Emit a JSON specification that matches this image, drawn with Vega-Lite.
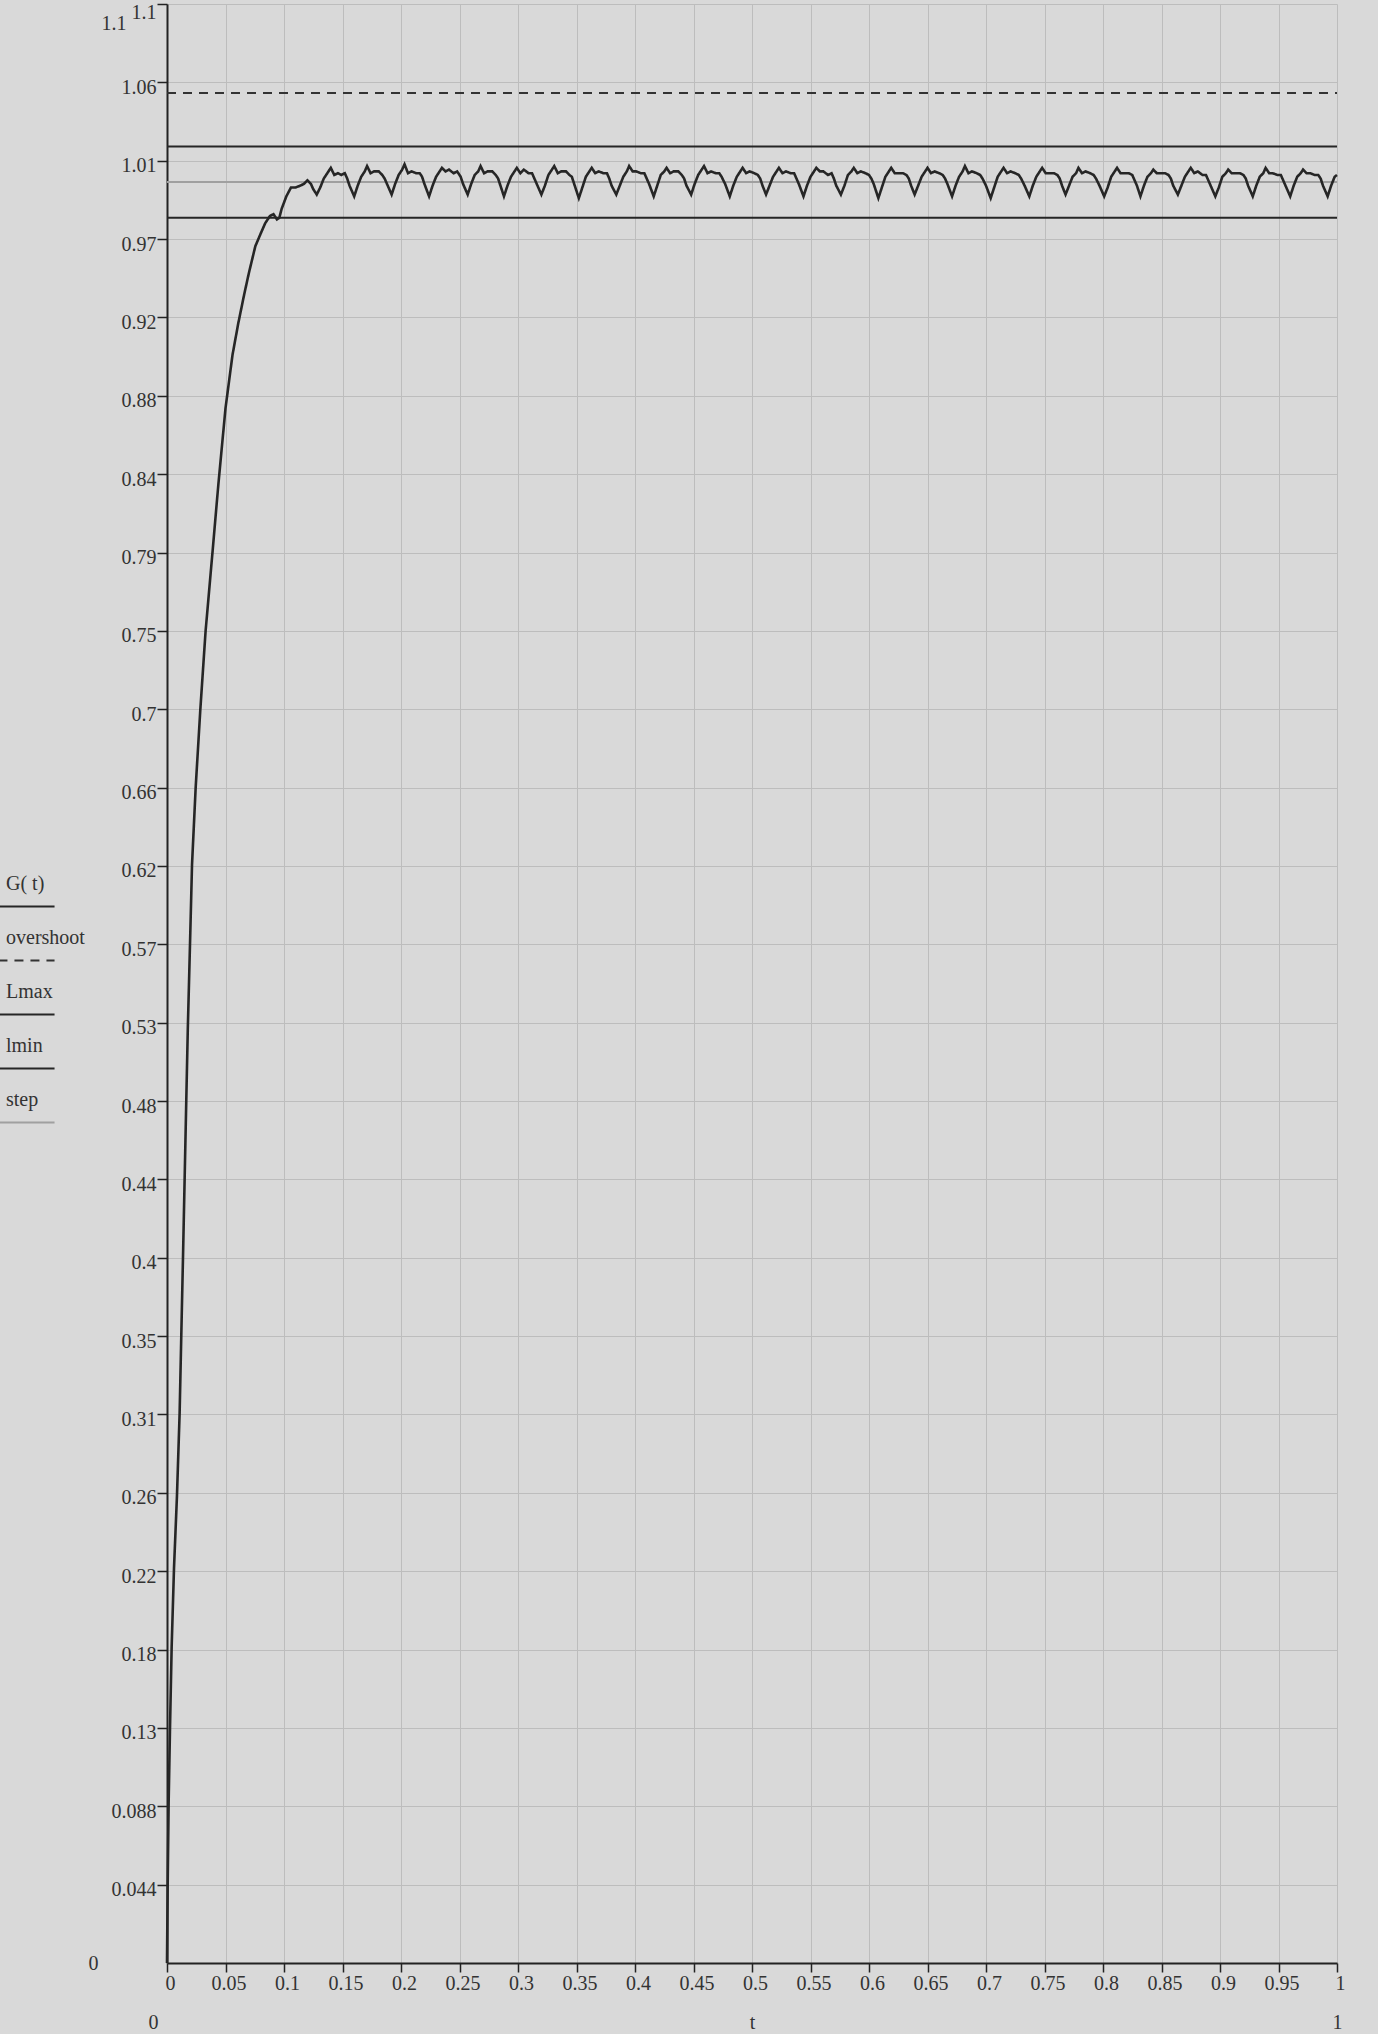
{
"$schema":"https://vega.github.io/schema/vega-lite/v6.json",
"width":1170,"height":1959,
"autosize":{"type":"none"},
"padding":{"left":167,"top":4,"right":41,"bottom":71},
"background":"#d9d9d9",
"config":{
"view":{"stroke":null},
"font":"Liberation Serif",
"axis":{"labelFont":"Liberation Serif","labelFontSize":20,"labelColor":"#333333","titleFont":"Liberation Serif","titleFontSize":20,"titleFontWeight":"normal","titleColor":"#333333","domainColor":"#222222","domainWidth":2,"tickColor":"#222222","tickWidth":1.5,"gridColor":"#bdbdbd","gridWidth":1,"gridOpacity":1},
"legend":{"orient":"none","legendX":-167,"legendY":853,"labelFont":"Liberation Serif","labelFontSize":20,"labelColor":"#333333","symbolSize":2600,"rowPadding":-7,"labelOffset":-47,"padding":0,"symbolStrokeWidth":2}
},
"datasets":{
"levels":[{"s":"overshoot","t":0,"v":1.05},{"s":"overshoot","t":1,"v":1.05},{"s":"Lmax","t":0,"v":1.02},{"s":"Lmax","t":1,"v":1.02},{"s":"lmin","t":0,"v":0.98},{"s":"lmin","t":1,"v":0.98},{"s":"step","t":0,"v":1},{"s":"step","t":1,"v":1}],
"g":[
{"t":0,"v":0},{"t":0.0006,"v":0.045},{"t":0.0014,"v":0.09},{"t":0.0026,"v":0.133},{"t":0.004,"v":0.178},{"t":0.006,"v":0.222},{"t":0.0085,"v":0.262},{"t":0.0108,"v":0.309},{"t":0.0122,"v":0.352},{"t":0.0137,"v":0.397},{"t":0.0151,"v":0.441},{"t":0.0165,"v":0.485},{"t":0.0178,"v":0.525},{"t":0.0197,"v":0.573},{"t":0.0214,"v":0.617},{"t":0.0245,"v":0.66},{"t":0.0285,"v":0.704},{"t":0.033,"v":0.748},{"t":0.039,"v":0.793},{"t":0.044,"v":0.831},{"t":0.05,"v":0.873},{"t":0.056,"v":0.903},{"t":0.061,"v":0.921},{"t":0.066,"v":0.937},{"t":0.07,"v":0.949},{"t":0.0755,"v":0.964},{"t":0.08,"v":0.971},{"t":0.084,"v":0.977},{"t":0.088,"v":0.981},{"t":0.091,"v":0.982},{"t":0.094,"v":0.979},{"t":0.096,"v":0.98},{"t":0.098,"v":0.985},{"t":0.102,"v":0.992},{"t":0.106,"v":0.997},{"t":0.11,"v":0.997},{"t":0.114,"v":0.998},{"t":0.117,"v":0.999},{"t":0.12,"v":1.001},{"t":0.123,"v":0.999},{"t":0.125,"v":0.996},
{"t":0.128,"v":0.993},{"t":0.131,"v":0.997},{"t":0.134,"v":1.002},{"t":0.137,"v":1.005},{"t":0.14,"v":1.008},{"t":0.143,"v":1.004},{"t":0.146,"v":1.005},{"t":0.149,"v":1.004},{"t":0.152,"v":1.005},{"t":0.154,"v":1.002},{"t":0.156,"v":0.998},
{"t":0.16,"v":0.992},{"t":0.163,"v":0.998},{"t":0.166,"v":1.003},{"t":0.169,"v":1.006},{"t":0.171,"v":1.009},{"t":0.174,"v":1.005},{"t":0.177,"v":1.006},{"t":0.181,"v":1.006},{"t":0.184,"v":1.004},{"t":0.186,"v":1.002},{"t":0.188,"v":0.999},
{"t":0.192,"v":0.993},{"t":0.195,"v":0.999},{"t":0.198,"v":1.004},{"t":0.201,"v":1.007},{"t":0.203,"v":1.01},{"t":0.206,"v":1.005},{"t":0.209,"v":1.006},{"t":0.213,"v":1.005},{"t":0.216,"v":1.005},{"t":0.218,"v":1.003},{"t":0.22,"v":0.999},
{"t":0.224,"v":0.992},{"t":0.227,"v":0.998},{"t":0.23,"v":1.003},{"t":0.233,"v":1.006},{"t":0.235,"v":1.008},{"t":0.238,"v":1.006},{"t":0.241,"v":1.007},{"t":0.245,"v":1.005},{"t":0.248,"v":1.006},{"t":0.251,"v":1.003},{"t":0.253,"v":0.999},
{"t":0.257,"v":0.993},{"t":0.26,"v":0.999},{"t":0.263,"v":1.004},{"t":0.266,"v":1.006},{"t":0.268,"v":1.009},{"t":0.271,"v":1.005},{"t":0.274,"v":1.006},{"t":0.278,"v":1.006},{"t":0.281,"v":1.004},{"t":0.283,"v":1.002},{"t":0.285,"v":0.998},
{"t":0.288,"v":0.992},{"t":0.291,"v":0.998},{"t":0.294,"v":1.003},{"t":0.297,"v":1.006},{"t":0.299,"v":1.008},{"t":0.302,"v":1.005},{"t":0.305,"v":1.007},{"t":0.309,"v":1.005},{"t":0.312,"v":1.005},{"t":0.314,"v":1.002},{"t":0.316,"v":0.999},
{"t":0.32,"v":0.993},{"t":0.323,"v":0.998},{"t":0.326,"v":1.004},{"t":0.329,"v":1.007},{"t":0.331,"v":1.009},{"t":0.334,"v":1.005},{"t":0.337,"v":1.006},{"t":0.341,"v":1.006},{"t":0.344,"v":1.004},{"t":0.346,"v":1.003},{"t":0.348,"v":0.999},
{"t":0.352,"v":0.991},{"t":0.355,"v":0.997},{"t":0.358,"v":1.003},{"t":0.361,"v":1.006},{"t":0.363,"v":1.008},{"t":0.366,"v":1.005},{"t":0.369,"v":1.006},{"t":0.373,"v":1.005},{"t":0.376,"v":1.005},{"t":0.378,"v":1.002},{"t":0.38,"v":0.998},
{"t":0.384,"v":0.993},{"t":0.387,"v":0.998},{"t":0.39,"v":1.003},{"t":0.393,"v":1.006},{"t":0.395,"v":1.009},{"t":0.398,"v":1.006},{"t":0.401,"v":1.006},{"t":0.405,"v":1.005},{"t":0.408,"v":1.005},{"t":0.41,"v":1.002},{"t":0.412,"v":0.999},
{"t":0.416,"v":0.992},{"t":0.419,"v":0.998},{"t":0.422,"v":1.004},{"t":0.425,"v":1.006},{"t":0.427,"v":1.008},{"t":0.43,"v":1.005},{"t":0.433,"v":1.006},{"t":0.437,"v":1.006},{"t":0.44,"v":1.004},{"t":0.442,"v":1.002},{"t":0.444,"v":0.998},
{"t":0.448,"v":0.993},{"t":0.451,"v":0.999},{"t":0.454,"v":1.004},{"t":0.457,"v":1.007},{"t":0.459,"v":1.009},{"t":0.462,"v":1.005},{"t":0.465,"v":1.006},{"t":0.469,"v":1.005},{"t":0.472,"v":1.005},{"t":0.474,"v":1.003},{"t":0.477,"v":0.999},
{"t":0.481,"v":0.992},{"t":0.484,"v":0.998},{"t":0.487,"v":1.003},{"t":0.49,"v":1.006},{"t":0.492,"v":1.008},{"t":0.495,"v":1.005},{"t":0.498,"v":1.006},{"t":0.502,"v":1.005},{"t":0.505,"v":1.004},{"t":0.507,"v":1.002},{"t":0.509,"v":0.998},
{"t":0.512,"v":0.993},{"t":0.515,"v":0.998},{"t":0.518,"v":1.003},{"t":0.521,"v":1.006},{"t":0.523,"v":1.008},{"t":0.526,"v":1.005},{"t":0.529,"v":1.006},{"t":0.533,"v":1.005},{"t":0.536,"v":1.005},{"t":0.538,"v":1.002},{"t":0.54,"v":0.999},
{"t":0.544,"v":0.992},{"t":0.547,"v":0.998},{"t":0.55,"v":1.003},{"t":0.553,"v":1.006},{"t":0.555,"v":1.008},{"t":0.558,"v":1.006},{"t":0.561,"v":1.006},{"t":0.565,"v":1.004},{"t":0.568,"v":1.005},{"t":0.57,"v":1.002},{"t":0.572,"v":0.998},
{"t":0.576,"v":0.993},{"t":0.579,"v":0.998},{"t":0.582,"v":1.004},{"t":0.585,"v":1.006},{"t":0.587,"v":1.008},{"t":0.59,"v":1.005},{"t":0.593,"v":1.006},{"t":0.597,"v":1.005},{"t":0.6,"v":1.004},{"t":0.602,"v":1.002},{"t":0.604,"v":0.999},
{"t":0.608,"v":0.991},{"t":0.611,"v":0.997},{"t":0.614,"v":1.003},{"t":0.617,"v":1.006},{"t":0.619,"v":1.008},{"t":0.622,"v":1.005},{"t":0.625,"v":1.005},{"t":0.629,"v":1.005},{"t":0.632,"v":1.004},{"t":0.634,"v":1.002},{"t":0.636,"v":0.998},
{"t":0.639,"v":0.993},{"t":0.642,"v":0.998},{"t":0.645,"v":1.003},{"t":0.648,"v":1.006},{"t":0.65,"v":1.008},{"t":0.653,"v":1.005},{"t":0.656,"v":1.006},{"t":0.66,"v":1.005},{"t":0.663,"v":1.004},{"t":0.665,"v":1.002},{"t":0.667,"v":0.999},
{"t":0.671,"v":0.992},{"t":0.674,"v":0.998},{"t":0.677,"v":1.003},{"t":0.68,"v":1.006},{"t":0.682,"v":1.009},{"t":0.685,"v":1.005},{"t":0.688,"v":1.006},{"t":0.692,"v":1.005},{"t":0.695,"v":1.004},{"t":0.697,"v":1.002},{"t":0.7,"v":0.998},
{"t":0.704,"v":0.991},{"t":0.707,"v":0.997},{"t":0.71,"v":1.003},{"t":0.713,"v":1.006},{"t":0.715,"v":1.008},{"t":0.718,"v":1.005},{"t":0.721,"v":1.006},{"t":0.725,"v":1.005},{"t":0.728,"v":1.004},{"t":0.73,"v":1.002},{"t":0.733,"v":0.998},
{"t":0.737,"v":0.992},{"t":0.74,"v":0.998},{"t":0.743,"v":1.003},{"t":0.746,"v":1.006},{"t":0.748,"v":1.008},{"t":0.751,"v":1.005},{"t":0.754,"v":1.005},{"t":0.758,"v":1.005},{"t":0.761,"v":1.004},{"t":0.763,"v":1.002},{"t":0.765,"v":0.998},
{"t":0.768,"v":0.993},{"t":0.771,"v":0.998},{"t":0.774,"v":1.003},{"t":0.777,"v":1.005},{"t":0.779,"v":1.008},{"t":0.782,"v":1.005},{"t":0.785,"v":1.006},{"t":0.789,"v":1.005},{"t":0.792,"v":1.004},{"t":0.794,"v":1.002},{"t":0.797,"v":0.998},
{"t":0.801,"v":0.992},{"t":0.804,"v":0.997},{"t":0.807,"v":1.003},{"t":0.81,"v":1.006},{"t":0.812,"v":1.008},{"t":0.815,"v":1.005},{"t":0.818,"v":1.005},{"t":0.822,"v":1.005},{"t":0.825,"v":1.004},{"t":0.827,"v":1.001},{"t":0.829,"v":0.998},
{"t":0.832,"v":0.992},{"t":0.835,"v":0.998},{"t":0.838,"v":1.003},{"t":0.841,"v":1.005},{"t":0.843,"v":1.007},{"t":0.846,"v":1.005},{"t":0.849,"v":1.005},{"t":0.853,"v":1.005},{"t":0.856,"v":1.004},{"t":0.858,"v":1.002},{"t":0.86,"v":0.998},
{"t":0.864,"v":0.993},{"t":0.867,"v":0.998},{"t":0.87,"v":1.003},{"t":0.873,"v":1.006},{"t":0.875,"v":1.008},{"t":0.878,"v":1.005},{"t":0.881,"v":1.006},{"t":0.885,"v":1.004},{"t":0.888,"v":1.004},{"t":0.89,"v":1.001},{"t":0.892,"v":0.998},
{"t":0.896,"v":0.992},{"t":0.899,"v":0.997},{"t":0.902,"v":1.003},{"t":0.905,"v":1.005},{"t":0.907,"v":1.007},{"t":0.91,"v":1.005},{"t":0.913,"v":1.005},{"t":0.917,"v":1.005},{"t":0.92,"v":1.004},{"t":0.922,"v":1.002},{"t":0.924,"v":0.998},
{"t":0.928,"v":0.992},{"t":0.931,"v":0.998},{"t":0.934,"v":1.003},{"t":0.937,"v":1.005},{"t":0.939,"v":1.008},{"t":0.942,"v":1.005},{"t":0.945,"v":1.005},{"t":0.949,"v":1.004},{"t":0.952,"v":1.004},{"t":0.954,"v":1.001},{"t":0.956,"v":0.998},
{"t":0.96,"v":0.992},{"t":0.963,"v":0.998},{"t":0.966,"v":1.003},{"t":0.969,"v":1.005},{"t":0.971,"v":1.007},{"t":0.974,"v":1.005},{"t":0.977,"v":1.005},{"t":0.981,"v":1.004},{"t":0.984,"v":1.004},{"t":0.986,"v":1.002},{"t":0.988,"v":0.998},
{"t":0.992,"v":0.992},{"t":0.995,"v":0.998},{"t":0.998,"v":1.003},{"t":1,"v":1.004}
]
},
"layer":[
{"encoding":{
"x":{"field":"t","type":"quantitative","scale":{"domain":[0,1],"nice":false,"zero":false},"axis":{"values":[0,0.05,0.1,0.15,0.2,0.25,0.3,0.35,0.4,0.45,0.5,0.55,0.6,0.65,0.7,0.75,0.8,0.85,0.9,0.95,1],"format":".2~f","labelFlush":false,"tickSize":9,"labelPadding":1,"labelOffset":3,"grid":true,"title":"t","titleY":59,"titleBaseline":"middle"}},
"y":{"field":"v","type":"quantitative","scale":{"domain":[0,1.1],"nice":false},"axis":{"values":[0.044,0.088,0.132,0.176,0.22,0.264,0.308,0.352,0.396,0.44,0.484,0.528,0.572,0.616,0.66,0.704,0.748,0.792,0.836,0.88,0.924,0.968,1.012,1.056,1.1],"labelExpr":"datum.value < 0.1 ? format(datum.value, '.3f') : format(datum.value, '.2~f')","tickSize":10,"labelPadding":1,"labelOffset":{"condition":{"test":"datum.value > 1.08","value":8},"value":5},"grid":true,"title":null}}
},
"layer":[
{"data":{"name":"levels"},"mark":{"type":"line","strokeWidth":2},
"encoding":{
"color":{"field":"s","type":"nominal","scale":{"domain":["G( t)","overshoot","Lmax","lmin","step"],"range":["#262626","#333333","#262626","#262626","#a0a0a0"]},"legend":{"title":null,"symbolType":"M-1.1,0.9L1.1,0.9"}},
"strokeDash":{"field":"s","type":"nominal","scale":{"domain":["G( t)","overshoot","Lmax","lmin","step"],"range":[[1,0],[9,7],[1,0],[1,0],[1,0]]},"legend":{"title":null,"symbolType":"M-1.1,0.9L1.1,0.9"}}
}},
{"data":{"name":"g"},"mark":{"type":"line","strokeWidth":2.6},
"encoding":{
"color":{"datum":"G( t)","type":"nominal"},
"strokeDash":{"datum":"G( t)","type":"nominal"}
}}
]},
{"data":{"name":"levels"},"mark":{"type":"point","opacity":0},
"encoding":{
"x":{"field":"t","type":"quantitative","scale":{"domain":[0,1],"nice":false,"zero":false},"axis":{"orient":"bottom","values":[0,1],"labelExpr":"datum.value > 0.5 ? '1' : '0'","domain":false,"ticks":false,"tickSize":0,"grid":false,"labelFlush":false,"offset":59,"labelPadding":0,"labelBaseline":"middle","labelOffset":{"condition":{"test":"datum.value == 0","value":-14},"value":0},"title":null}},
"y":{"field":"v","type":"quantitative","scale":{"domain":[0,1.1],"nice":false},"axis":{"orient":"left","values":[0,1.1],"labelExpr":"datum.value > 1 ? '1.1' : '0'","domain":false,"ticks":false,"tickSize":0,"grid":false,"title":null,"labelPadding":{"condition":{"test":"datum.value > 1","value":41},"value":69},"labelOffset":{"condition":{"test":"datum.value > 1","value":19},"value":0}}}
}}
],
"resolve":{"axis":{"x":"independent","y":"independent"}}
}
